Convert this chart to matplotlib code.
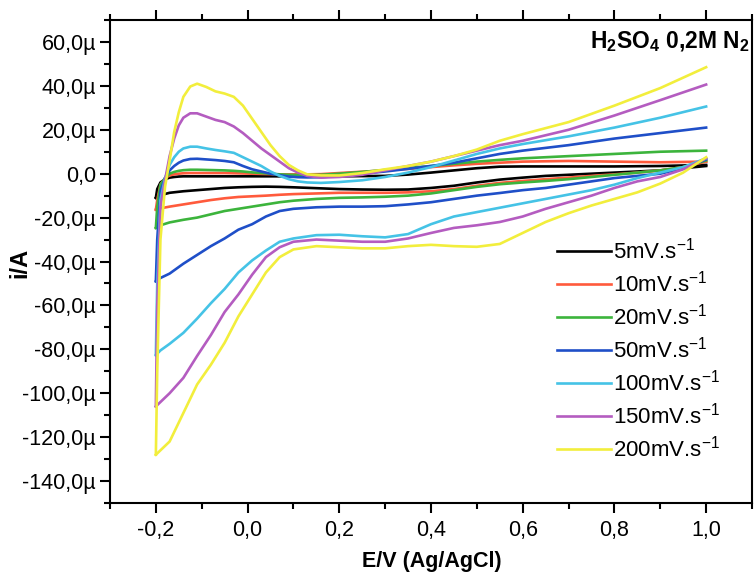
import numpy as np
import matplotlib
matplotlib.use("Agg")
import matplotlib.pyplot as plt
from matplotlib.ticker import MultipleLocator, FuncFormatter

plt.rcParams['font.family'] = ['Liberation Sans', 'DejaVu Sans']
plt.rcParams['mathtext.fontset'] = 'custom'
plt.rcParams['mathtext.rm'] = 'Liberation Sans'
plt.rcParams['mathtext.bf'] = 'Liberation Sans:bold'
plt.rcParams['mathtext.default'] = 'regular'

# potential grids (V vs Ag/AgCl), anodic (forward) and cathodic (reverse) sweep
e_fwd = [-0.2, -0.197, -0.19, -0.18, -0.17, -0.16, -0.15, -0.14, -0.125, -0.11,
         -0.09, -0.07, -0.05, -0.03, -0.01, 0.01, 0.03, 0.05, 0.07, 0.09,
         0.11, 0.13, 0.16, 0.2, 0.25, 0.3, 0.35, 0.4, 0.45, 0.5,
         0.55, 0.6, 0.7, 0.8, 0.9, 1.0]
e_rev = [1.0, 0.95, 0.9, 0.85, 0.8, 0.75, 0.7, 0.65, 0.6, 0.55,
         0.5, 0.45, 0.4, 0.35, 0.3, 0.25, 0.2, 0.15, 0.1, 0.07,
         0.04, 0.01, -0.02, -0.05, -0.08, -0.11, -0.14, -0.17, -0.19, -0.2]

labels = ["5mV.s$^{-1}$", "10mV.s$^{-1}$", "20mV.s$^{-1}$", "50mV.s$^{-1}$",
          "100mV.s$^{-1}$", "150mV.s$^{-1}$", "200mV.s$^{-1}$"]
colors = ["#000000", "#ff5a3c", "#3cb43c", "#1f4fc8", "#45c3e6", "#b45cc0", "#f2ee3c"]

# currents in microampere
i5_fwd = [-11, -7, -4, -2.5, -1.8, -1.5, -1.3, -1.2, -1.2, -1.2,
          -1.2, -1.2, -1.2, -1.2, -1.2, -1.2, -1.2, -1.2, -1.2, -1.2,
          -1.2, -1.2, -1.2, -1.2, -1.1, -1.0, -0.4, 0.5, 1.5, 2.5,
          3.2, 3.3, 3.3, 3.3, 3.5, 4.0]
i5_rev = [3.5, 2.5, 1.5, 1.0, 0.5, 0.0, -0.5, -1.0, -1.8, -2.7,
          -4.0, -5.5, -6.5, -7.2, -7.3, -7.2, -7.0, -6.6, -6.2, -6.0,
          -5.9, -6.0, -6.2, -6.5, -7.0, -7.5, -8.0, -8.7, -9.8, -11]

i10_fwd = [-16.4, -12, -5, -2, -0.8, -0.3, 0.0, 0.2, 0.3, 0.3,
           0.3, 0.3, 0.3, 0.2, 0.1, 0.0, -0.1, -0.2, -0.3, -0.3,
           -0.3, -0.3, -0.2, 0.3, 0.9, 1.5, 2.2, 3.0, 3.8, 4.5,
           5.0, 5.5, 5.8, 5.5, 5.2, 5.5]
i10_rev = [5.5, 3.0, 1.5, 0.5, -0.3, -1.0, -1.8, -2.5, -3.3, -4.2,
           -5.5, -7.0, -8.0, -8.5, -8.7, -8.7, -8.7, -9.0, -9.3, -9.6,
           -10.0, -10.3, -10.6, -11.2, -12.0, -13.0, -14.0, -15.0, -15.8, -16.4]

i20_fwd = [-24.7, -15, -5, -2, 0.0, 0.8, 1.3, 1.6, 1.8, 1.8,
           1.7, 1.6, 1.5, 1.3, 1.0, 0.6, 0.3, 0.0, -0.3, -0.5,
           -0.6, -0.6, -0.5, 0.0, 0.8, 1.7, 2.6, 3.5, 4.5, 5.5,
           6.3, 7.0, 8.0, 9.0, 10.0, 10.5]
i20_rev = [6.0, 3.0, 1.5, 0.5, -0.5, -1.5, -2.5, -3.3, -4.0, -4.8,
           -6.0, -7.5, -9.0, -10.0, -10.5, -10.8, -11.0, -11.5, -12.3, -13.0,
           -14.0, -15.0, -16.0, -17.0, -18.5, -20.0, -21.0, -22.2, -23.5, -24.7]

i50_fwd = [-49, -30, -8, -2, 1.5, 3.5, 5.0, 6.0, 6.7, 6.8,
           6.5, 6.2, 5.8, 5.2, 3.5, 2.0, 1.0, 0.0, -0.7, -1.3,
           -1.6, -1.7, -1.6, -1.0, 0.0, 1.0, 2.2, 3.5, 5.0, 7.0,
           9.0, 10.5, 13.0, 16.0, 18.5, 21.0]
i50_rev = [6.5, 2.5, 0.0, -1.0, -2.0, -3.5, -5.0, -6.5, -7.5, -8.8,
           -10.0, -11.5, -13.0, -14.0, -14.8, -15.0, -15.0, -15.3, -16.0, -17.0,
           -19.5, -23.0, -25.5, -29.5, -33.0, -37.0, -41.0, -45.5, -47.5, -49]

i100_fwd = [-82.6, -50, -12, -2, 4.0, 7.5, 10.0, 11.5, 12.3, 12.3,
            11.5, 10.8, 10.2, 9.5, 7.5, 5.5, 3.5, 1.0, -1.0, -2.5,
            -3.5, -4.0, -4.2, -3.8, -3.0, -1.5, 0.5, 3.0, 6.0, 9.0,
            11.5, 13.5, 17.0, 21.0, 25.5, 30.6]
i100_rev = [7.0, 3.0, 0.5, -2.0, -5.0, -7.5, -9.5, -11.5, -13.5, -15.5,
            -17.5, -19.5, -23.0, -27.5, -29.0, -28.5, -27.8, -28.0, -29.5, -31.0,
            -35.0, -39.5, -45.0, -52.5, -59.0, -66.0, -72.5, -77.5, -80.5, -82.6]

i150_fwd = [-106, -60, -15, -3, 8, 16, 22, 25.5, 27.5, 27.5,
            26, 24.5, 23.5, 21.5, 18.5, 15, 11.5, 8.5, 5.5, 2.5,
            0.5, -1.0, -1.8, -1.5, -0.5, 1.5, 3.5, 5.5, 8.0, 10.5,
            13.0, 15.0, 20.0, 26.5, 33.5, 40.6]
i150_rev = [7.0, 2.0, -1.5, -3.5, -6.5, -10.0, -13.0, -16.0, -19.5, -22.0,
            -23.5, -24.7, -27.0, -29.5, -31.0, -31.0, -30.5, -30.0, -31.0, -33.5,
            -38.0, -46.0, -55.0, -63.0, -73.5, -83.0, -93.0, -100.0, -104.0, -106]

i200_fwd = [-128, -90, -30, -6, 6, 19, 28, 35, 39.7, 41,
            39.5, 37.5, 36.5, 35, 31, 25, 19, 13, 8, 4,
            1.5, -0.3, -0.8, -0.8, 0.3, 2.0, 3.5, 5.5, 8.0, 11.0,
            15.0, 18.0, 23.5, 31.0, 39.0, 48.5]
i200_rev = [7.5, 0.5, -4.5, -8.5, -11.5, -14.5, -18.0, -22.0, -27.0, -32.0,
            -33.3, -33.0, -32.4, -33.0, -34.0, -34.0, -33.5, -33.0, -34.5, -38.0,
            -45.0, -55.0, -65.0, -77.0, -87.0, -96.0, -109.0, -122.0, -126.0, -128]

fwd = [i5_fwd, i10_fwd, i20_fwd, i50_fwd, i100_fwd, i150_fwd, i200_fwd]
rev = [i5_rev, i10_rev, i20_rev, i50_rev, i100_rev, i150_rev, i200_rev]

fig = plt.figure(figsize=(7.56, 5.75), dpi=100)
ax = fig.add_axes([0.1455, 0.1252, 0.8492, 0.84])

for f, r, c, lab in zip(fwd, rev, colors, labels):
    ax.plot(e_fwd, f, color=c, lw=1.9, label=lab)
    ax.plot(e_rev, r, color=c, lw=1.9)

ax.set_xlim(-0.3, 1.1)
ax.set_ylim(-150, 70)
ax.xaxis.set_major_locator(MultipleLocator(0.2))
ax.xaxis.set_minor_locator(MultipleLocator(0.1))
ax.yaxis.set_major_locator(MultipleLocator(20))
ax.yaxis.set_minor_locator(MultipleLocator(10))


def yfmt(v, pos):
    if abs(v) < 1e-9:
        return "0,0"
    return ("%.1f" % v).replace(".", ",") + "µ"


def xfmt(v, pos):
    s = "%.1f" % v
    if s == "-0.0":
        s = "0.0"
    return s.replace(".", ",")


ax.yaxis.set_major_formatter(FuncFormatter(yfmt))
ax.xaxis.set_major_formatter(FuncFormatter(xfmt))

for sp in ax.spines.values():
    sp.set_linewidth(1.5)
ax.tick_params(which='both', direction='out', width=1.5, labelsize=15.5,
               top=True, right=False, labeltop=False)
ax.tick_params(which='major', length=7, pad=3)
ax.tick_params(which='minor', length=4)
ax.tick_params(axis='x', which='major', pad=5)

# axis titles placed directly in figure coords
fig.text(432 / 756, 1 - 561 / 575, "E/V (Ag/AgCl)", ha='center', va='center',
         fontsize=15.5, fontweight='bold')
fig.text(20 / 756, 1 - 263 / 575, "i/A", rotation=90, ha='center', va='center',
         fontsize=17, fontweight='bold')

ax.text(0.997, 0.955, r"H$\mathbf{_2}$SO$\mathbf{_4}$ 0,2M N$\mathbf{_2}$",
        transform=ax.transAxes, ha='right', va='center', fontsize=16.5,
        fontweight='bold')

ax.legend(loc='lower right', bbox_to_anchor=(0.95, 0.085), frameon=False,
          fontsize=16, handlelength=2.4, handletextpad=0.1, labelspacing=0.32,
          borderaxespad=0.0, borderpad=0.0)

fig.savefig("out.png", dpi=100)
